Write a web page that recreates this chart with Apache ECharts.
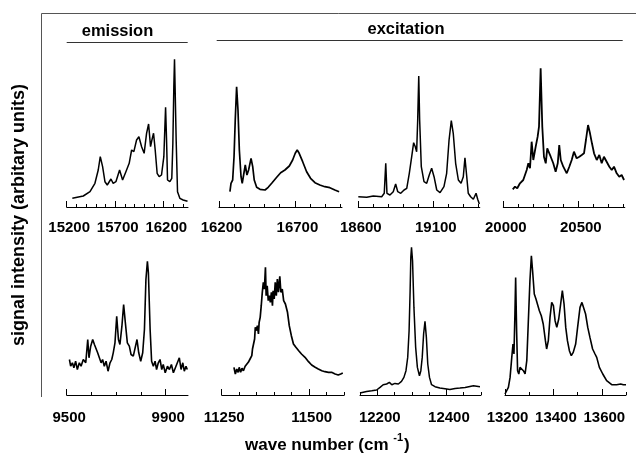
<!DOCTYPE html>
<html><head><meta charset="utf-8">
<script src="https://cdn.jsdelivr.net/npm/echarts@6/dist/echarts.min.js"></script>
<style>html,body{margin:0;padding:0;background:#fff}#c{width:636px;height:462px}</style>
</head><body><div id="c"></div>
<script>
// ---- emission 15200-16450 ----
const p1X = [15258,15371,15440,15491,15525,15546,15570,15594,15618,15656,15679,15707,15745,15776,15810,15844,15869,15892,15920,15944,15972,15998,16023,16044,16064,16078,16095,16112,16132,16153,16177,16201,16219,16229,16239,16263,16283,16294,16304,16311,16317,16328,16342,16366,16400,16445];
const p1Y = [8.7,11,15.3,23.7,37,50.3,40.3,25.3,22,28,23.7,25.3,37,27,35.3,43.7,57,55.3,67,70.3,60.3,53.7,73.7,83,60.3,67,73.7,57,33.7,30.3,32,50.3,99.7,67,27,25.3,28.7,63.7,120.3,147.7,120.3,67,15.3,8.7,7,5.7];
// ---- excitation 16200-17000 ----
const p2X = [16272,16279,16290,16299,16307,16316,16325,16334,16345,16353,16362,16373,16384,16395,16411,16422,16432,16448,16470,16503,16524,16547,16580,16606,16634,16663,16685,16702,16715,16728,16751,16777,16803,16832,16864,16897,16930,16963,16991];
const p2Y = [15.3,23.7,27,50.3,87,120.3,97,57,30.3,23.7,32,42,32,37,48.7,40.3,27,19.7,17.7,17,19.7,23.7,29.7,34.3,37,41,47,53.7,57,53.7,45.3,35.3,28.7,24.3,22,20.3,19.3,17,15.3];
// ---- excitation 18600-19400 ----
const p3X = [18600,18656,18700,18756,18773,18783,18791,18811,18833,18849,18863,18883,18905,18923,18940,18956,18969,18980,18989,18996,19003,19009,19020,19038,19056,19073,19089,19105,19123,19145,19171,19189,19205,19220,19233,19249,19267,19285,19300,19311,19323,19333,19349,19367,19385,19396,19407];
const p3Y = [10.3,9.7,11,10.3,13.7,43.7,13.7,12,15.3,23,15.3,13.7,17,18.7,33.7,50.3,64.3,60.3,55.3,87,131,87,40.3,25.3,23.7,32,38.7,30.3,17,14.3,20.3,33.7,67,86.3,73.7,43.7,27,23.7,30.3,49.3,30.3,13.7,10.3,7.7,13.7,7.7,3];
// ---- excitation 20000-20800 ----
const p4X = [20063,20078,20093,20111,20133,20156,20167,20178,20189,20200,20216,20229,20238,20249,20260,20271,20283,20293,20305,20316,20333,20349,20363,20373,20383,20400,20423,20440,20456,20471,20489,20507,20523,20538,20551,20565,20578,20591,20605,20623,20640,20656,20671,20689,20707,20723,20738,20756,20773,20789,20805];
const p4Y = [17.7,20.3,18.7,23.7,27,37,43.7,38.7,65.3,47,60.3,70.3,80.3,138.7,80.3,50.3,43.7,58.7,60.3,50.3,43.7,35.3,43.7,62,47,40.3,33.7,40.3,47,55.3,48.7,50.3,52,53.7,67,82,73.7,63.7,53.7,47,52,43.7,50.3,45.3,40.3,37,40.3,33.7,30.3,32,27];
// ---- 9500-9990 ----
const p5X = [9511,9516,9523,9529,9536,9543,9551,9558,9567,9577,9585,9590,9597,9605,9612,9618,9625,9632,9639,9645,9652,9659,9667,9675,9682,9688,9695,9702,9709,9715,9723,9730,9737,9745,9753,9760,9769,9777,9784,9791,9799,9807,9814,9820,9826,9830,9837,9843,9850,9857,9863,9870,9877,9884,9890,9898,9907,9915,9923,9931,9939,9947,9955,9962,9969,9975,9982,9987];
const p5Y = [35.5,28.8,32.2,27.2,33.8,25.5,32.2,28.8,35.5,32.2,55.5,37.2,48.8,55.5,50.5,48.8,42.2,37.2,32.2,35.5,28.8,33.8,23.8,32.2,35.5,42.2,52.2,78.8,55.5,50.5,68.8,90.5,72.2,52.2,48.8,40.5,38.8,37.2,55.5,42.2,33.8,42.2,65.5,115.5,133.8,122.2,65.5,33.8,28.8,33.8,25.5,32.2,35.5,25.5,30.5,22.2,28.8,25.5,30.5,22.2,27.2,28.8,37.2,25.5,32.2,23.8,28.8,25.5];
// ---- 11250-11600 ----
const p6X = [11285,11289,11293,11297,11300,11304,11308,11312,11317,11321,11326,11331,11336,11338,11341,11344,11346,11349,11352,11355,11357,11360,11363,11366,11369,11372,11375,11377,11380,11383,11386,11389,11392,11395,11397,11400,11403,11406,11409,11412,11416,11419,11423,11427,11432,11438,11443,11449,11455,11462,11470,11478,11488,11498,11507,11517,11526,11536,11545,11555,11564,11574,11583,11590,11596];
const p6Y = [27.7,21,26,22.7,27.7,22.7,26.7,24.3,28.7,30,32.7,36,39.3,46,44.3,56,67.7,64.3,69.3,61,72.7,77.7,89.3,102.7,112.7,106,127.7,99.3,109.3,94.3,99.3,92.7,102.7,89.3,104.3,96,112.7,99.3,116,102.7,118.7,102.7,106,94.3,91,82.7,69.3,59.3,51,47.7,44.3,41,37.7,33.3,30,27.7,26,24.3,23.3,22.7,22.7,21,20,21,22];
// ---- 12150-12500 ----
const p7X = [12150,12155,12169,12184,12198,12208,12217,12227,12235,12242,12251,12261,12270,12277,12283,12288,12292,12295,12297,12299,12302,12306,12311,12316,12322,12326,12330,12334,12338,12342,12346,12351,12357,12367,12381,12396,12410,12425,12439,12454,12468,12478,12497];
const p7Y = [2,3.3,3.6,4.3,5,7.6,10.3,11,12.6,10.3,11.6,11,13.6,17.6,24.3,37.6,64.3,104.3,137.6,147.6,134.3,87.6,47.6,27.6,19.3,24.3,37.6,61,73.6,57.6,31,17.6,10.3,8.3,7,6.3,5.6,6.6,7,7.6,8.6,9.3,8.3];
// ---- 13200-13700 ----
const p8X = [13200,13207,13214,13221,13228,13233,13237,13241,13244,13248,13252,13257,13262,13269,13276,13283,13290,13296,13303,13309,13314,13321,13328,13335,13342,13350,13358,13367,13372,13379,13386,13393,13400,13407,13414,13422,13430,13437,13444,13451,13458,13466,13474,13482,13492,13500,13510,13518,13526,13533,13542,13551,13562,13572,13579,13590,13604,13620,13641,13661,13678,13689,13700];
const p8Y = [1,4.3,7.6,17.6,37.6,51,41,81,117.6,64.3,24.3,21,27.6,29.3,24.3,21,34.3,71,114.3,139.3,124.3,101,96,97.6,84.3,79.3,71,54.3,46,54.3,77.6,92.6,89.3,74.3,67.6,76,91,104.3,91,67.6,54.3,44.3,39.3,42.6,51,67.6,87.6,92.6,91,81,67.6,57.6,46,41,37.6,27.6,21,14.3,10.3,10.3,11,10.3,10.3];

// tick labels and tick positions
const p1Labels = [15200,15700,16200], p1Major = [15200,15700,16200], p1Minor = [15300,15400,15500,15600,15800,15900,16000,16100,16300,16400];
const p2Labels = [16200,16700], p2Major = [16200,16700], p2Minor = [16300,16400,16500,16600,16800,16900,17000];
const p3Labels = [18600,19100], p3Major = [18600,19100], p3Minor = [18700,18800,18900,19000,19200,19300,19400];
const p4Labels = [20000,20500], p4Major = [20000,20500], p4Minor = [20100,20200,20300,20400,20600,20700,20800];
const p5Labels = [9500,9900], p5Major = [9500,9900], p5Minor = [9600,9700,9800];
const p6Labels = [11250,11500], p6Major = [11250,11500], p6Minor = [11300,11350,11400,11450,11550,11600];
const p7Labels = [12200,12400], p7Major = [12200,12400], p7Minor = [12150,12250,12300,12350,12450,12500];
const p8Labels = [13200,13400,13600], p8Major = [13200,13400,13600], p8Minor = [13300,13500,13700];

const panels = [
  {x:p1X,y:p1Y,lab:p1Labels,maj:p1Major,min:p1Minor,lo:15200,hi:16450,left:66.7,w:121.3,row:0,lw:1.5},
  {x:p2X,y:p2Y,lab:p2Labels,maj:p2Major,min:p2Minor,lo:16200,hi:17010,left:219,w:123,row:0,lw:1.7},
  {x:p3X,y:p3Y,lab:p3Labels,maj:p3Major,min:p3Minor,lo:18600,hi:19410,left:358.3,w:121.5,row:0,lw:1.5},
  {x:p4X,y:p4Y,lab:p4Labels,maj:p4Major,min:p4Minor,lo:20000,hi:20810,left:503.3,w:121.5,row:0,lw:1.8},
  {x:p5X,y:p5Y,lab:p5Labels,maj:p5Major,min:p5Minor,lo:9500,hi:9990,left:66.7,w:121.3,row:1,lw:1.6},
  {x:p6X,y:p6Y,lab:p6Labels,maj:p6Major,min:p6Minor,lo:11250,hi:11600,left:221.7,w:122.5,row:1,lw:1.7},
  {x:p7X,y:p7Y,lab:p7Labels,maj:p7Major,min:p7Minor,lo:12150,hi:12500,left:360,w:121,row:1,lw:1.5},
  {x:p8X,y:p8Y,lab:p8Labels,maj:p8Major,min:p8Minor,lo:13200,hi:13700,left:505,w:121,row:1,lw:1.6}
];

const FONT = '"Liberation Sans", Arial, Helvetica, sans-serif';
const grid = [], xAxis = [], yAxis = [], series = [];
panels.forEach((p, i) => {
  const top = p.row === 0 ? 47 : 235;
  grid.push({left: p.left, top: top, width: p.w, height: 160, containLabel: false});
  xAxis.push({
    type: 'value', gridIndex: i, min: p.lo, max: p.hi, position: 'bottom',
    axisLine: {show: true, onZero: false, lineStyle: {color: '#000', width: 1}},
    axisTick: {show: true, inside: true, length: 3, customValues: p.min, lineStyle: {color: '#000', width: 1}},
    axisLabel: {show: true, customValues: p.lab, formatter: v => String(Math.round(v)),
      fontSize: 15, fontWeight: 'bold', fontFamily: FONT, color: '#000', margin: p.row === 0 ? 13 : 15, padding: [0,0,0,5]},
    splitLine: {show: false}
  });
  xAxis.push({
    type: 'value', gridIndex: i, min: p.lo, max: p.hi, position: 'bottom',
    axisLine: {show: false, onZero: false},
    axisTick: {show: true, inside: true, length: 6, customValues: p.maj, lineStyle: {color: '#000', width: 1}},
    axisLabel: {show: false}, splitLine: {show: false}
  });
  yAxis.push({type: 'value', gridIndex: i, min: 0, max: 160, show: false});
  series.push({
    type: 'line', xAxisIndex: 2 * i, yAxisIndex: i,
    data: p.x.map((v, k) => [v, p.y[k]]),
    symbol: 'none', showSymbol: false, clip: false,
    lineStyle: {color: '#000', width: p.lw}
  });
});

const chart = echarts.init(document.getElementById('c'), null, {renderer: 'canvas'});
chart.setOption({
  animation: false,
  backgroundColor: '#fff',
  grid, xAxis, yAxis, series,
  graphic: [
    {type: 'line', shape: {x1: 41.5, y1: 13.5, x2: 636, y2: 13.5}, style: {stroke: '#555', lineWidth: 1}},
    {type: 'line', shape: {x1: 41.5, y1: 13.5, x2: 41.5, y2: 397}, style: {stroke: '#555', lineWidth: 1}},
    {type: 'line', shape: {x1: 66.7, y1: 42.5, x2: 187.7, y2: 42.5}, style: {stroke: '#333', lineWidth: 1}},
    {type: 'line', shape: {x1: 216.7, y1: 40.5, x2: 622.7, y2: 40.5}, style: {stroke: '#333', lineWidth: 1}},
    {type: 'text', x: 117.5, y: 31.5, style: {text: 'emission', font: 'bold 16.5px ' + FONT, fill: '#000', align: 'center', verticalAlign: 'middle', textAlign: 'center', textVerticalAlign: 'middle'}},
    {type: 'text', x: 406, y: 29.5, style: {text: 'excitation', font: 'bold 16.5px ' + FONT, fill: '#000', align: 'center', verticalAlign: 'middle', textAlign: 'center', textVerticalAlign: 'middle'}},
    {type: 'text', x: 19, y: 215, rotation: Math.PI / 2, style: {text: 'signal intensity (arbitary units)', font: 'bold 18px ' + FONT, fill: '#000', align: 'center', verticalAlign: 'middle', textAlign: 'center', textVerticalAlign: 'middle'}},
    {type: 'text', x: 245, y: 445, style: {
      text: '{a|wave number (cm }{s|-1}{a|)}',
      align: 'left', verticalAlign: 'middle', textAlign: 'left', textVerticalAlign: 'middle',
      rich: {
        a: {fontSize: 17, fontWeight: 'bold', fontFamily: FONT, fill: '#000', color: '#000'},
        s: {fontSize: 11, fontWeight: 'bold', fontFamily: FONT, fill: '#000', color: '#000', padding: [0, 1, 14, 0]}
      }
    }}
  ]
});
</script></body></html>
